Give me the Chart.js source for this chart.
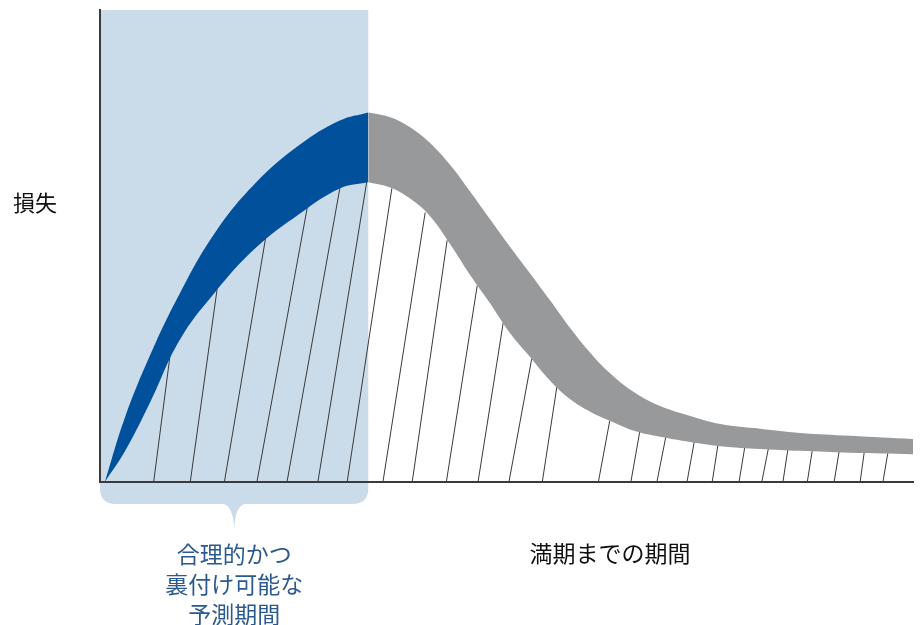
<!DOCTYPE html>
<html>
<head>
<meta charset="utf-8">
<script src="https://cdn.jsdelivr.net/npm/chart.js@4"></script>
<style>
  html, body { margin: 0; padding: 0; background: #fff; }
  canvas { display: block; }
</style>
</head>
<body>
<canvas id="chart" width="920" height="625"></canvas>
<script>
// 予測可能期間の終わり（横軸の値）
const forecastEnd = 33.0;

// 合理的かつ裏付け可能な予測期間（青い帯）
const blueX = [0.6, 3.1, 6.2, 9.8, 14.1, 19.1, 24.6, 29.5, 33.0];
const blueUpper = [0, 13.8, 27.0, 39.9, 52.7, 63.3, 71.5, 76.6, 78.3];
const blueLower = [0, 6.6, 17.0, 30.1, 40.1, 49.5, 56.9, 62.2, 63.5];

// それ以降の期間（灰色の帯）
const greyX = [33.0, 35.7, 38.1, 40.6, 43.1, 45.5, 48.0, 50.4, 52.9, 55.4, 57.8, 60.3, 62.7, 65.8, 68.9, 72.6, 76.3, 81.2, 86.1, 92.3, 100];
const greyUpper = [78.3, 77.3, 75.2, 71.8, 67.1, 61.6, 55.6, 49.9, 44.2, 38.4, 32.7, 27.4, 23.1, 18.9, 16.1, 14.0, 12.3, 11.3, 10.4, 9.8, 9.1];
const greyLower = [63.5, 62.4, 60.1, 56.3, 50.3, 43.9, 37.8, 31.6, 26.5, 21.4, 17.6, 14.9, 13.0, 10.8, 9.6, 8.5, 7.6, 7.0, 6.6, 6.2, 5.9];

// 斜線：横軸上の足と下側の線上の先端
const hatchFoot = [6.6, 11.1, 15.3, 19.3, 23.0, 26.8, 30.4, 34.8, 38.4, 42.6, 46.5, 50.3, 54.4, 61.3, 65.3, 68.5, 72.2, 75.3, 78.6, 81.4, 84.0, 87.0, 90.3, 93.5, 96.3];
const hatchTipX = [8.6, 14.4, 20.4, 25.5, 29.5, 32.8, 35.9, 40.0, 42.7, 46.4, 49.6, 53.1, 56.2, 62.7, 66.4, 69.6, 73.1, 76.0, 79.3, 82.2, 84.6, 87.6, 90.9, 94.0, 96.9];
const hatchTipY = [26.6, 40.8, 52.0, 58.2, 62.2, 63.5, 62.2, 57.1, 51.2, 41.6, 33.8, 26.1, 20.2, 13.0, 10.8, 9.6, 8.6, 7.8, 7.3, 7.0, 6.8, 6.6, 6.4, 6.3, 6.1];

const yTitle = '損失';
const xTitle = '満期までの期間';
const periodLabel = ['合理的かつ', '裏付け可能な', '予測期間'];

const FONT = '"Noto Sans CJK JP", "Noto Sans", sans-serif';

const pts = (xs, ys) => xs.map((x, i) => ({ x, y: ys[i] }));

const band = (xs, ys, color, fill) => ({
    data: pts(xs, ys),
    borderWidth: 0,
    borderColor: color,
    backgroundColor: color,
    pointRadius: 0,
    tension: 0.4,
    fill,
});

const datasets = [
    band(blueX, blueUpper, '#00509b', '+1'),
    band(blueX, blueLower, '#00509b', false),
    band(greyX, greyUpper, '#98999b', '+1'),
    band(greyX, greyLower, '#98999b', false),
];

hatchFoot.forEach((foot, i) => {
    datasets.push({
        data: [{ x: foot, y: 0 }, { x: hatchTipX[i], y: hatchTipY[i] }],
        borderColor: '#3a3a3a',
        borderWidth: 1,
        pointRadius: 0,
        fill: false,
    });
});

// 予測期間の背景と下の括弧
const periodShade = {
    id: 'periodShade',
    beforeDatasetsDraw(chart) {
        const { ctx, chartArea, scales: { x } } = chart;
        const left = x.getPixelForValue(0);
        const right = x.getPixelForValue(forecastEnd);
        const top = chartArea.top;
        const bottom = chartArea.bottom + 22;
        const r = 16;
        const mid = (left + right) / 2;
        ctx.save();
        ctx.fillStyle = '#cadbea';
        ctx.beginPath();
        ctx.moveTo(left, top);
        ctx.lineTo(right, top);
        ctx.lineTo(right, bottom - r);
        ctx.quadraticCurveTo(right, bottom, right - r, bottom);
        ctx.lineTo(mid + 11, bottom);
        ctx.quadraticCurveTo(mid + 1, bottom + 2, mid, bottom + 25);
        ctx.quadraticCurveTo(mid - 1, bottom + 2, mid - 11, bottom);
        ctx.lineTo(left + r, bottom);
        ctx.quadraticCurveTo(left, bottom, left, bottom - r);
        ctx.closePath();
        ctx.fill();
        ctx.restore();
    },
    afterDraw(chart) {
        const { ctx, chartArea, scales: { x } } = chart;
        const mid = (x.getPixelForValue(0) + x.getPixelForValue(forecastEnd)) / 2;
        ctx.save();
        ctx.textAlign = 'center';
        ctx.textBaseline = 'middle';
        ctx.fillStyle = '#111';
        ctx.font = '22px ' + FONT;
        ctx.fillText(yTitle, 35, 203);
        ctx.font = '23px ' + FONT;
        ctx.fillText(xTitle, 610, chartArea.bottom + 71);
        ctx.fillStyle = '#2c5a8e';
        periodLabel.forEach((t, i) => {
            ctx.fillText(t, mid, chartArea.bottom + 72 + i * 30);
        });
        ctx.restore();
    },
};

new Chart(document.getElementById('chart'), {
    type: 'line',
    data: { datasets },
    options: {
        responsive: false,
        devicePixelRatio: 1,
        animation: false,
        layout: { padding: { left: 92, top: 10, right: 7, bottom: 135 } },
        plugins: {
            legend: { display: false },
            tooltip: { enabled: false },
        },
        scales: {
            x: {
                type: 'linear',
                min: 0,
                max: 100,
                grid: { display: false },
                ticks: { display: false },
                border: { display: true, color: '#3a3a3a', width: 2, z: 1 },
            },
            y: {
                min: 0,
                max: 100,
                grid: { display: false },
                ticks: { display: false },
                border: { display: true, color: '#3a3a3a', width: 2, z: 1 },
            },
        },
    },
    plugins: [periodShade],
});
</script>
</body>
</html>
